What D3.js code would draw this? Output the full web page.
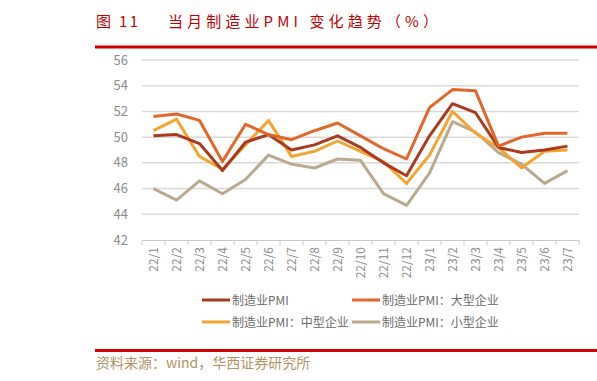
<!DOCTYPE html>
<html>
<head>
<meta charset="utf-8">
<script src="https://cdn.jsdelivr.net/npm/d3@7"></script>
<style>
  body { margin: 0; background: #fff; }
  svg { display: block; font-family: "Noto Sans CJK SC", "Noto Sans", sans-serif; }
</style>
</head>
<body>
<div class="diagram"></div>
<script>
// months on the x axis
const months = ["22/1","22/2","22/3","22/4","22/5","22/6","22/7","22/8","22/9","22/10",
                "22/11","22/12","23/1","23/2","23/3","23/4","23/5","23/6","23/7"];

// series values (%)
const pmiAll    = [50.1, 50.2, 49.5, 47.4, 49.6, 50.2, 49.0, 49.4, 50.1, 49.2, 48.0, 47.0, 50.1, 52.6, 51.9, 49.2, 48.8, 49.0, 49.3];
const pmiLarge  = [51.6, 51.8, 51.3, 48.1, 51.0, 50.2, 49.8, 50.5, 51.1, 50.1, 49.1, 48.3, 52.3, 53.7, 53.6, 49.3, 50.0, 50.3, 50.3];
const pmiMedium = [50.5, 51.4, 48.5, 47.5, 49.4, 51.3, 48.5, 48.9, 49.7, 48.9, 48.1, 46.4, 48.6, 52.0, 50.3, 49.2, 47.6, 48.9, 49.0];
const pmiSmall  = [46.0, 45.1, 46.6, 45.6, 46.7, 48.6, 47.9, 47.6, 48.3, 48.2, 45.6, 44.7, 47.2, 51.2, 50.4, 48.8, 47.9, 46.4, 47.4];

const seriesNames = ["制造业PMI", "制造业PMI：大型企业", "制造业PMI：中型企业", "制造业PMI：小型企业"];
const yTicks = [42, 44, 46, 48, 50, 52, 54, 56];

const colors = ["#a93a1f", "#e2662a", "#f2a530", "#baa98e"];
const seriesData = [pmiAll, pmiLarge, pmiMedium, pmiSmall];

const W = 597, H = 381;
const svg = d3.select(".diagram").append("svg")
  .attr("width", W).attr("height", H);

// title + rule
svg.append("text")
  .attr("x", 96).attr("y", 27)
  .attr("fill", "#c00000")
  .style("font-size", "15px")
  .attr("textLength", 42).attr("lengthAdjust", "spacing")
  .text("图 11");
svg.append("text")
  .attr("x", 168).attr("y", 27)
  .attr("fill", "#c00000")
  .style("font-size", "15px")
  .attr("textLength", 270).attr("lengthAdjust", "spacing")
  .text("当月制造业PMI 变化趋势（%）");
svg.append("rect").attr("x", 95).attr("y", 45.5).attr("width", 502).attr("height", 3).attr("fill", "#d00000");

// plot area
const x = d3.scaleBand().domain(months).range([142, 579]);
const y = d3.scaleLinear().domain([42, 56]).range([240, 60]);

// gridlines
svg.append("g").selectAll("line")
  .data(yTicks.slice(1))
  .join("line")
    .attr("x1", 142).attr("x2", 579)
    .attr("y1", d => y(d)).attr("y2", d => y(d))
    .attr("stroke", "#d9d9d9").attr("stroke-width", 1.5);

// y labels
svg.append("g").selectAll("text")
  .data(yTicks)
  .join("text")
    .attr("x", 128).attr("y", d => y(d) + 4.5)
    .attr("text-anchor", "end")
    .attr("fill", "#8c8c8c")
    .style("font-size", "13px")
    .text(d => d);

// x axis
const xAxis = svg.append("g")
  .attr("transform", "translate(0,240)")
  .call(d3.axisBottom(x).tickSize(0).tickSizeOuter(0).tickPadding(0));
xAxis.select(".domain").attr("stroke", "#c8c8c8").attr("stroke-width", 1.2);
xAxis.selectAll(".tick text")
  .attr("transform", "translate(4,7) rotate(-90)")
  .attr("text-anchor", "end")
  .attr("dy", 0)
  .attr("fill", "#8c8c8c")
  .style("font-size", "12px")
  .style("font-family", "'Noto Sans CJK SC', sans-serif");
// boundary ticks
svg.append("g").selectAll("line")
  .data(months.concat(["end"]))
  .join("line")
    .attr("x1", (d, i) => 142 + i * x.step()).attr("x2", (d, i) => 142 + i * x.step())
    .attr("y1", 240).attr("y2", 245)
    .attr("stroke", "#c8c8c8").attr("stroke-width", 1);

// lines
const line = d3.line()
  .x((d, i) => x(months[i]) + x.bandwidth() / 2)
  .y(d => y(d));
[3, 2, 0, 1].forEach(k => {
  svg.append("path")
    .datum(seriesData[k])
    .attr("fill", "none")
    .attr("stroke", colors[k])
    .attr("stroke-width", 3)
    .attr("stroke-linejoin", "round")
    .attr("d", line);
});

// legend
const legendPos = [[202, 300], [352, 300], [202, 322], [352, 322]];
seriesNames.forEach((name, i) => {
  const [lx, ly] = legendPos[i];
  svg.append("line")
    .attr("x1", lx).attr("x2", lx + 28)
    .attr("y1", ly).attr("y2", ly)
    .attr("stroke", colors[i]).attr("stroke-width", 3);
  svg.append("text")
    .attr("x", lx + 30).attr("y", ly + 4.5)
    .attr("fill", "#6b6b6b")
    .style("font-size", "12px")
    .text(name);
});

// bottom rule + source
svg.append("rect").attr("x", 95).attr("y", 349).attr("width", 502).attr("height", 3).attr("fill", "#d00000");
svg.append("text")
  .attr("x", 96).attr("y", 368)
  .attr("fill", "#b09466")
  .style("font-size", "14px")
  .text("资料来源：wind，华西证券研究所");
</script>
</body>
</html>
